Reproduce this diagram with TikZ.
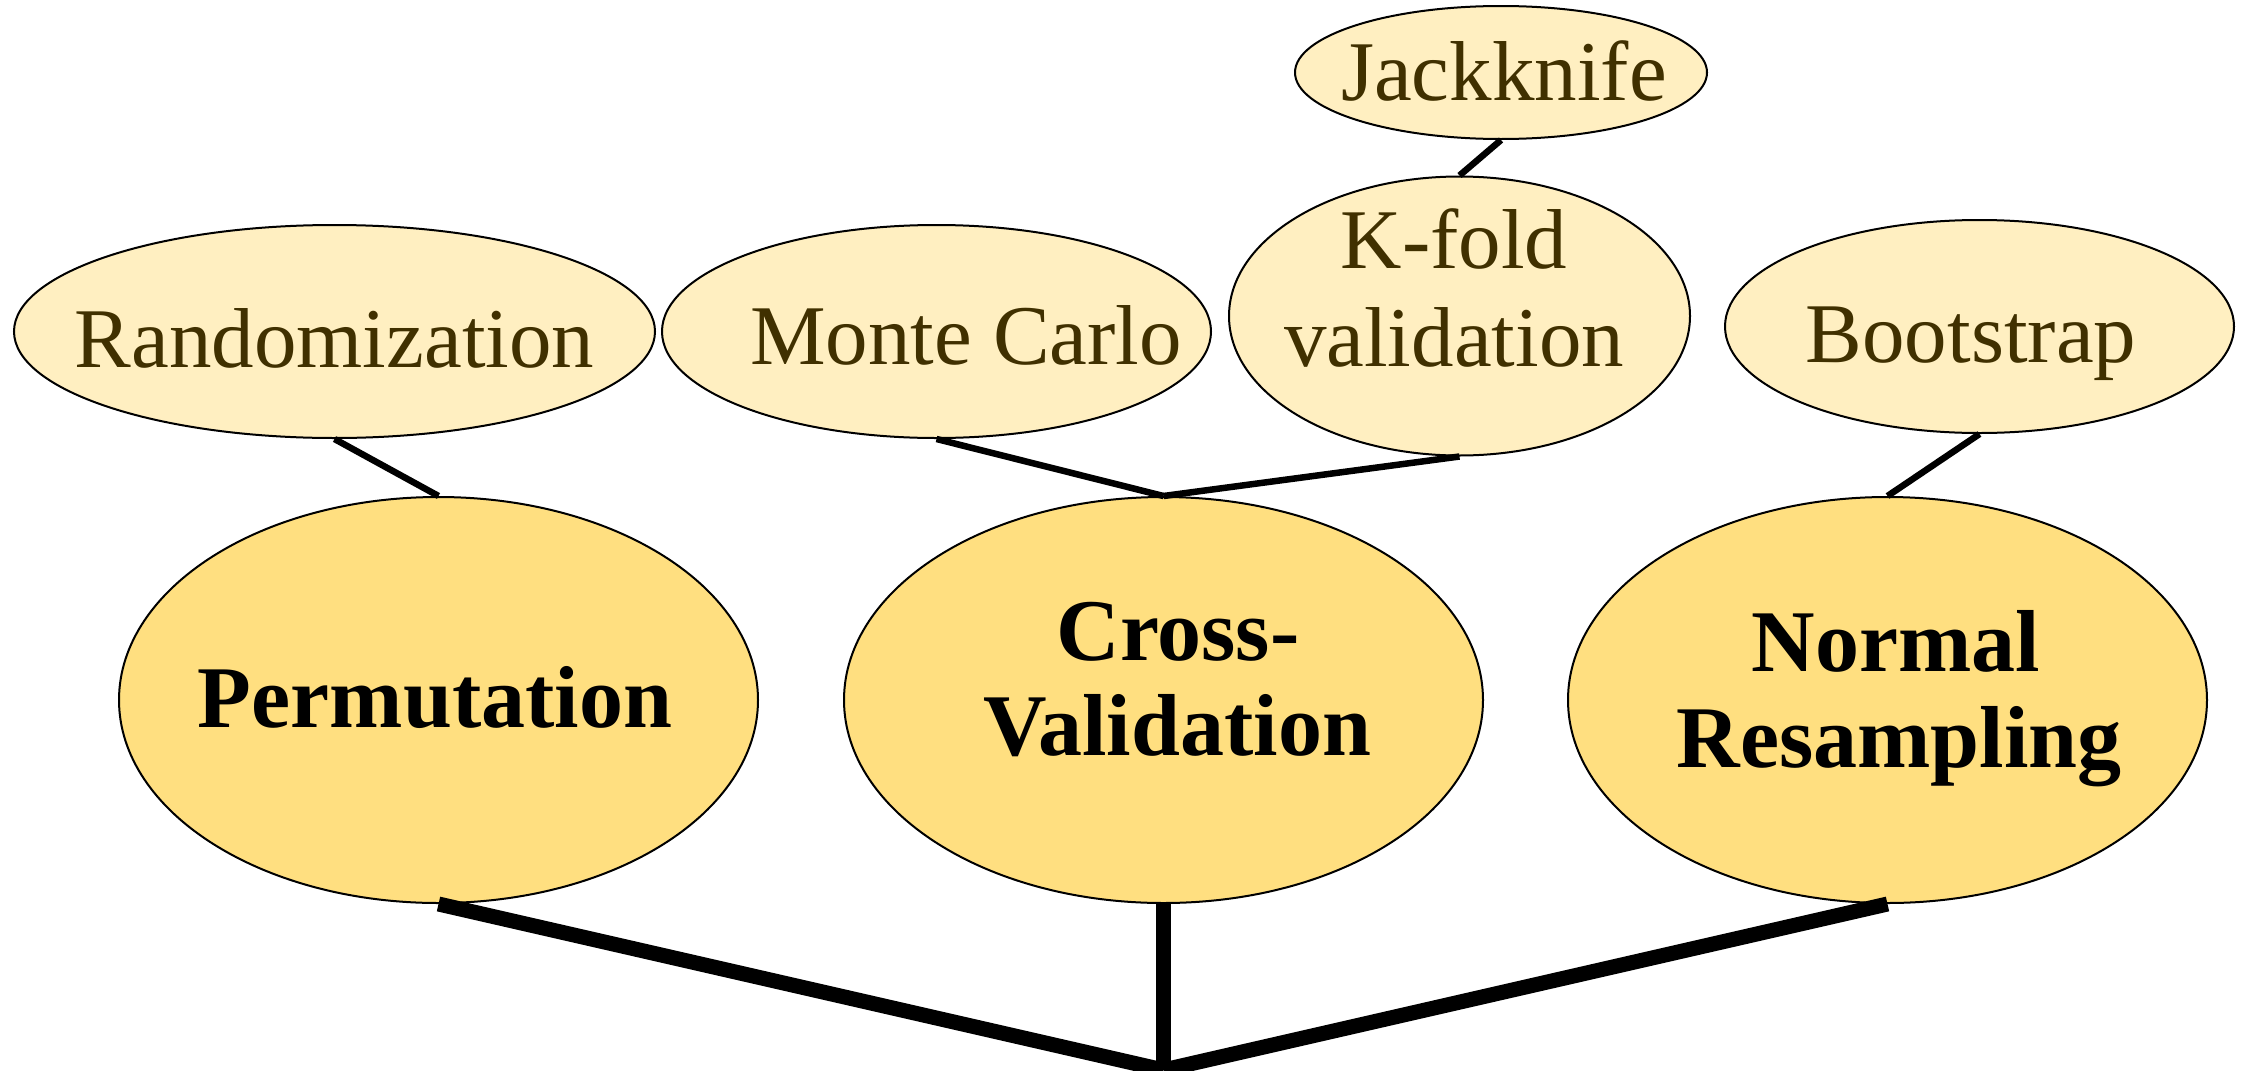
\documentclass[tikz,border=0pt]{standalone}
\usepackage{fontspec}
\setmainfont{Liberation Serif}
\usetikzlibrary{shapes.geometric}
\definecolor{ovalLight}{HTML}{FFEFC1}
\definecolor{ovalDark}{HTML}{FFDF80}
\definecolor{inkBrown}{HTML}{403000}

\begin{document}
\begin{tikzpicture}[x=1pt,y=-1pt,
  oval/.style={ellipse, draw=black, line width=2pt, inner sep=0pt},
  subOval/.style={oval, fill=ovalLight},
  mainOval/.style={oval, fill=ovalDark},
  subText/.style={anchor=base, inner sep=0pt, text=inkBrown,
    font=\fontsize{85}{100}\selectfont},
  mainText/.style={anchor=base, inner sep=0pt, text=black,
    font=\fontsize{88}{100}\selectfont\bfseries},
  twig/.style={line width=6.5pt},
  trunk/.style={line width=15pt}]
\useasboundingbox (0,0) rectangle (2247,1071);
\fill[white] (0,0) rectangle (2247,1071);

% top row of method variants
\node[subOval, minimum width=641pt, minimum height=213pt] (rand)  at (334.5,331.5) {};
\node[subOval, minimum width=549pt, minimum height=213pt] (mc)    at (936.5,331.5) {};
\node[subOval, minimum width=461pt, minimum height=279pt] (kfold) at (1459.5,316) {};
\node[subOval, minimum width=412pt, minimum height=133pt] (jack)  at (1501,72.5) {};
\node[subOval, minimum width=509pt, minimum height=213pt] (boot)  at (1979.5,326.5) {};

% main resampling families
\node[mainOval, minimum width=639pt, minimum height=406pt] (perm) at (438.5,700) {};
\node[mainOval, minimum width=639pt, minimum height=406pt] (cv)   at (1163.5,700) {};
\node[mainOval, minimum width=639pt, minimum height=406pt] (nr)   at (1887.5,700) {};

% labels
\node[subText] (rand-t)   at (334.5,367) {Randomization};
\node[subText] (mc-t)     at (966,364) {Monte Carlo};
\node[subText] (kfold-t1) at (1454,268) {K-fold};
\node[subText] (kfold-t2) at (1454,366) {validation};
\node[subText] (jack-t)   at (1504,100) {Jackknife};
\node[subText] (boot-t)   at (1971,362) {Bootstrap};

\node[mainText] (perm-t)  at (435,727) {Permutation};
\node[mainText] (cv-t1)   at (1178,660) {Cross-};
\node[mainText] (cv-t2)   at (1177,755) {Validation};
\node[mainText] (nr-t1)   at (1896,671) {Normal};
\node[mainText] (nr-t2)   at (1899,767) {Resampling};

% thin links between variants and families
\draw[twig] (rand.south)  -- (perm.north);
\draw[twig] (mc.south)    -- (cv.north);
\draw[twig] (kfold.south) -- (cv.north);
\draw[twig] (jack.south)  -- (kfold.north);
\draw[twig] (boot.south)  -- (nr.north);

% thick trunk joining the three families
\coordinate (root) at (1163.5,1070);
\draw[trunk] (perm.south) -- (root);
\draw[trunk] (cv.south)   -- (root);
\draw[trunk] (nr.south)   -- (root);
\end{tikzpicture}
\end{document}
